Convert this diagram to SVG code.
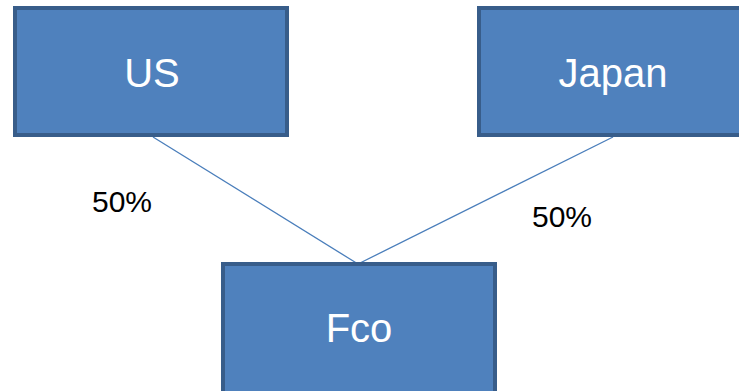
<svg xmlns="http://www.w3.org/2000/svg" width="739" height="391" viewBox="0 0 739 391">
<style>
.box{fill:#4F81BD;stroke:#385D8A;stroke-width:4}
.lbl{font-family:"Liberation Sans",Arial,sans-serif;font-size:40px;fill:#FFFFFF;text-anchor:middle}
.pct{font-family:"Liberation Sans",Arial,sans-serif;font-size:30px;fill:#000000}
.conn{stroke:#4A7EBB;stroke-width:1.3;fill:none}
</style>
<rect width="739" height="391" fill="#FFFFFF"/>
<g id="connectors">
<line class="conn" x1="153" y1="137" x2="358" y2="264"/>
<line class="conn" x1="613" y1="137" x2="358" y2="264"/>
</g>
<g id="US">
<rect class="box" x="15" y="8" width="272" height="127"/>
<text class="lbl" x="152" y="87">US</text>
</g>
<g id="Japan">
<rect class="box" x="479" y="8" width="264" height="127"/>
<text class="lbl" x="613" y="87">Japan</text>
</g>
<g id="Fco">
<rect class="box" x="223" y="264" width="272" height="140"/>
<text class="lbl" x="359" y="342">Fco</text>
</g>
<text class="pct" x="92" y="212">50%</text>
<text class="pct" x="532" y="227">50%</text>
</svg>
